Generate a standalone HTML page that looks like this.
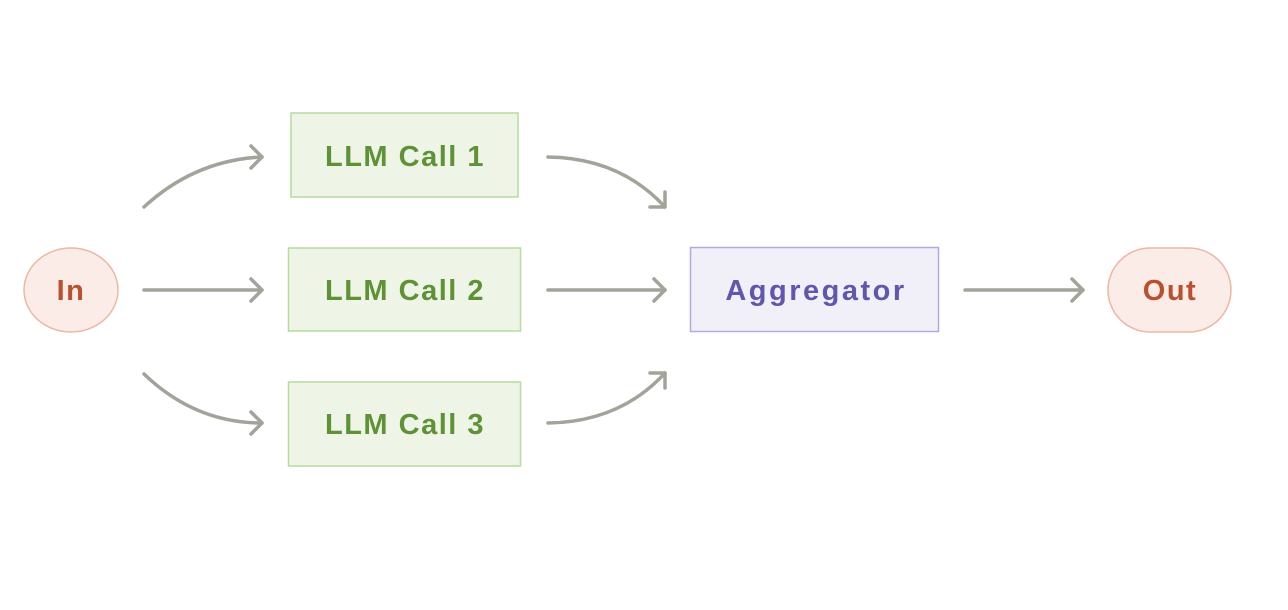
<!DOCTYPE html>
<html><head><meta charset="utf-8"><style>html,body{margin:0;padding:0;background:#fff;}svg{display:block}</style></head>
<body>
<svg width="1288" height="610" viewBox="0 0 1288 610" xmlns="http://www.w3.org/2000/svg" font-family="Liberation Sans, sans-serif" font-weight="bold" font-size="29" letter-spacing="1.5">
<g fill="none" stroke="#a3a39b" stroke-width="3.5" stroke-linecap="round" stroke-linejoin="round">
<path d="M144 207 Q195 160 262 157"/><path d="M251 146 L262 157 L251 168"/>
<path d="M144 290 L262 290"/><path d="M251 279 L262 290 L251 301"/>
<path d="M144 374 Q195 423 262 423"/><path d="M251 412 L262 423 L251 434"/>
<path d="M548 157 Q620 158 665 207"/><path d="M665 192 L665 207 L650 207"/>
<path d="M548 290 L665 290"/><path d="M654 279 L665 290 L654 301"/>
<path d="M548 423 Q620 422 665 373"/><path d="M650 373 L665 373 L665 388"/>
<path d="M965 290 L1083 290"/><path d="M1072 279 L1083 290 L1072 301"/>
</g>
<ellipse cx="71" cy="290" rx="47" ry="42" fill="#fbece8" stroke="#ebb8a5" stroke-width="1.5"/>
<text x="71" y="300" text-anchor="middle" fill="#b9512e">In</text>
<rect x="291" y="113" width="227" height="84" fill="#eef5e6" stroke="#b6dc9d" stroke-width="1.5"/>
<text x="405" y="166" text-anchor="middle" fill="#5f9237">LLM Call 1</text>
<rect x="288.5" y="248" width="232" height="83" fill="#eef5e6" stroke="#b6dc9d" stroke-width="1.5"/>
<text x="405" y="300" text-anchor="middle" fill="#5f9237">LLM Call 2</text>
<rect x="288.5" y="382" width="232" height="84" fill="#eef5e6" stroke="#b6dc9d" stroke-width="1.5"/>
<text x="405" y="434" text-anchor="middle" fill="#5f9237">LLM Call 3</text>
<rect x="690.5" y="247.5" width="248" height="84" fill="#f1f0f8" stroke="#b2a8e8" stroke-width="1.5"/>
<text x="816" y="300" text-anchor="middle" fill="#6156ae" letter-spacing="2.5">Aggregator</text>
<rect x="1108" y="248" width="123" height="84" rx="42" ry="42" fill="#fbece8" stroke="#ebb8a5" stroke-width="1.5"/>
<text x="1170" y="300" text-anchor="middle" fill="#b9512e">Out</text>
</svg>
</body></html>
